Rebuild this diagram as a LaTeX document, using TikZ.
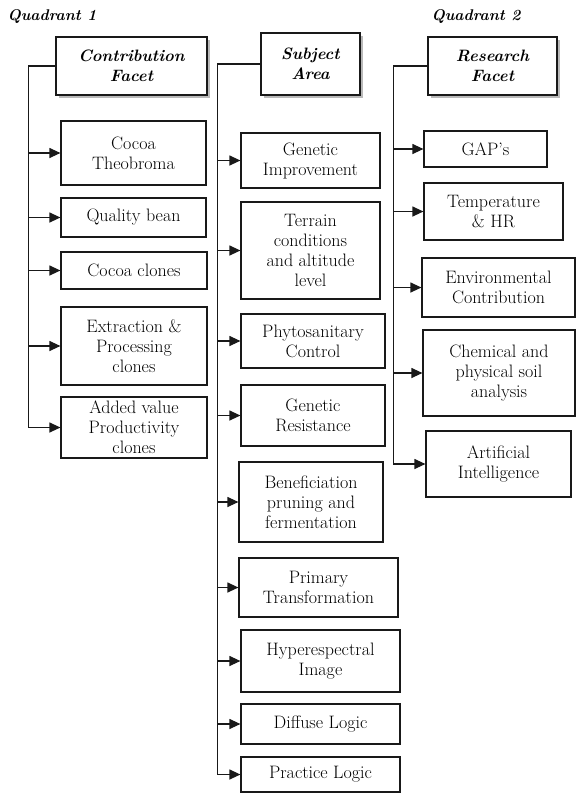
\documentclass[tikz,border=0pt]{standalone}
\usetikzlibrary{arrows.meta,shadows}
\begin{document}
\begin{tikzpicture}[x=1pt,y=-1pt,
  box/.style={draw=black!90,line width=1.2pt,fill=white,inner sep=0pt,align=center,
    font=\fontsize{18}{20}\selectfont},
  head/.style={box,font=\fontsize{16.5}{20}\selectfont\bfseries\itshape,
    drop shadow={shadow xshift=3pt,shadow yshift=-3pt,fill=black!55}},
  quad/.style={font=\fontsize{15.5}{18}\selectfont\bfseries\itshape,inner sep=0pt},
  link/.style={line width=1.2pt,draw=black!90},
  arr/.style={link,-{Triangle[length=11pt,width=10pt]}}]
\useasboundingbox (0,0) rectangle (577,793);
% quadrant labels
\node[quad] (q1) at (52,17) {Quadrant 1};
\node[quad] (q2) at (476,17) {Quadrant 2};
% headers
\node[head,minimum width=151pt,minimum height=58pt] (cf) at (131.5,66) {Contribution\\Facet};
\node[head,minimum width=99pt,minimum height=62pt] (sa) at (310.5,64) {Subject\\Area};
\node[head,minimum width=129pt,minimum height=58pt] (rf) at (492.5,66) {Research\\Facet};
% left column
\node[box,minimum width=145pt,minimum height=64pt] (ct) at (133.5,153) {Cocoa\\Theobroma};
\node[box,minimum width=145pt,minimum height=39pt] (qb) at (133.5,217.5) {Quality bean};
\node[box,minimum width=146pt,minimum height=37pt] (cc) at (134,270.5) {Cocoa clones};
\node[box,minimum width=146pt,minimum height=78pt] (ep) at (134,346) {Extraction \&\\Processing\\clones};
\node[box,minimum width=146pt,minimum height=61pt] (av) at (134,427.5) {Added value\\Productivity\\clones};
% middle column
\node[box,minimum width=139pt,minimum height=55pt] (gi) at (310.5,160.5) {Genetic\\Improvement};
\node[box,minimum width=139pt,minimum height=97pt] (tc) at (310.5,250.5) {Terrain\\conditions\\and altitude\\level};
\node[box,minimum width=144pt,minimum height=54pt] (pc) at (313,341) {Phytosanitary\\Control};
\node[box,minimum width=144pt,minimum height=61pt] (gr) at (313,415.5) {Genetic\\Resistance};
\node[box,minimum width=144pt,minimum height=80pt] (bp) at (311,502) {Beneficiation\\pruning and\\fermentation};
\node[box,minimum width=159pt,minimum height=59pt] (pt) at (318.5,587.5) {Primary\\Transformation};
\node[box,minimum width=159pt,minimum height=62pt] (hi) at (320.5,661) {Hyperespectral\\Image};
\node[box,minimum width=159pt,minimum height=40pt] (dl) at (320.5,724) {Diffuse Logic};
\node[box,minimum width=159pt,minimum height=35pt] (pl) at (320.5,774.5) {Practice Logic};
% right column
\node[box,minimum width=123pt,minimum height=36pt] (gap) at (485.5,149) {GAP's};
\node[box,minimum width=139pt,minimum height=57pt] (th) at (493.5,211.5) {Temperature\\\& HR};
\node[box,minimum width=153pt,minimum height=59pt] (ec) at (498.5,287.5) {Environmental\\Contribution};
\node[box,minimum width=152pt,minimum height=86pt] (ch) at (499,373) {Chemical and\\physical soil\\analysis};
\node[box,minimum width=145pt,minimum height=66pt] (ai) at (498.5,464) {Artificial\\Intelligence};
% left connectors
\draw[link] (cf.west) -- ++(-27,0) coordinate (l0) -- (l0 |- av.west);
\foreach \n in {ct,qb,cc,ep,av} \draw[arr] (l0 |- \n.west) -- (\n.west);
% middle connectors
\draw[link] (sa.west) -- ++(-43,0) coordinate (m0) -- (m0 |- pl.west);
\foreach \n in {gi,tc,pc,gr,bp,pt,hi,dl,pl} \draw[arr] (m0 |- \n.west) -- (\n.west);
% right connectors
\draw[link] (rf.west) -- ++(-34,0) coordinate (r0) -- (r0 |- ai.west);
\foreach \n in {gap,th,ec,ch,ai} \draw[arr] (r0 |- \n.west) -- (\n.west);
\end{tikzpicture}
\end{document}
